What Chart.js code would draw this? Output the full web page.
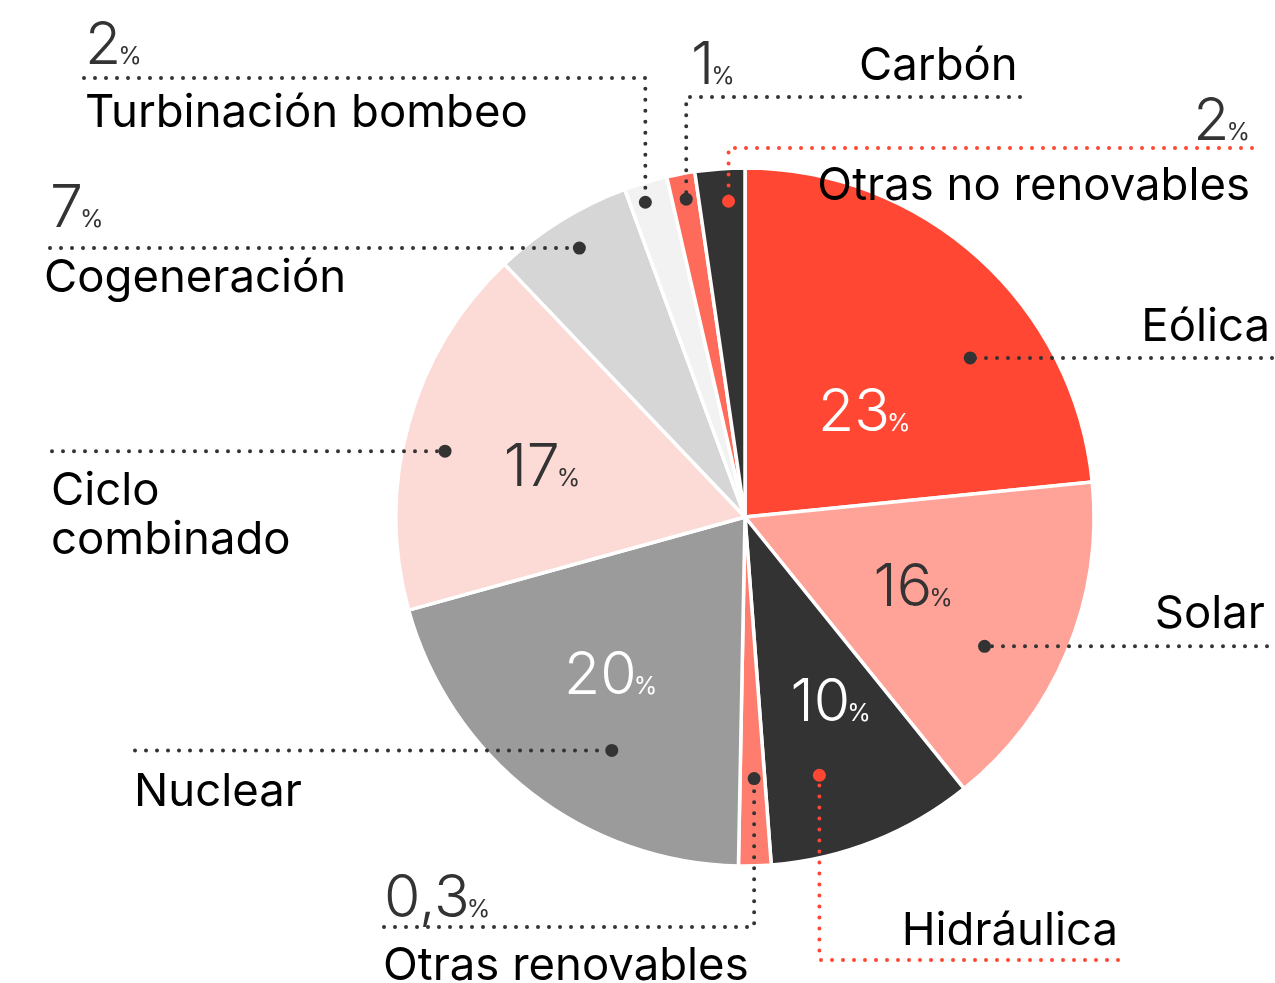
<!DOCTYPE html>
<html lang="es">
<head>
  <meta charset="UTF-8">
  <title>Generación por tecnología</title>
  <script src="https://cdn.jsdelivr.net/npm/chart.js"></script>
  <style>
    html, body { margin: 0; padding: 0; background: #fff; }
    #wrap { width: 1275px; height: 983px; position: relative; }
  </style>
</head>
<body>
  <div id="wrap">
    <canvas id="pie" width="1275" height="983"></canvas>
  </div>

  <script>
    // slices, clockwise from 12 o'clock
    const labels = ['Eólica', 'Solar', 'Hidráulica', 'Otras renovables', 'Nuclear',
                    'Ciclo combinado', 'Cogeneración', 'Turbinación bombeo', 'Carbón', 'Otras no renovables'];
    const values = [23.4, 15.8, 9.6, 1.5, 20.4, 17.2, 6.5, 2.0, 1.3, 2.3];
    const pctLabels = ['23', '16', '10', '0,3', '20', '17', '7', '2', '1', '2'];
    const colors = ['#FF4733', '#FFA297', '#333333', '#FF7D6E', '#9B9B9B',
                    '#FCDAD6', '#D6D6D6', '#F2F2F2', '#FF6B5B', '#333333'];

    const DARK = '#333333';
    const RED = '#FF4733';
    const FONT = 'Inter, "Noto Sans", sans-serif';

    // annotation layout per slice (same order as labels)
    // dot: position inside the arc (t = fraction of the arc angle, r = fraction of radius)
    // lead: 'h' = straight across to x, 'v' = vertical to lineY then across to x
    const layout = [
      { dot: { t: 0.65, r: 0.79 }, dc: DARK, lead: 'h', x: 1272,
        name: { x: 1270, y: 341, align: 'right' }, inner: { t: 0.57, r: 0.46, color: '#fff' } },
      { dot: { t: 0.60, r: 0.78 }, dc: DARK, lead: 'h', x: 1267,
        name: { x: 1265, y: 628, align: 'right' }, inner: { t: 0.49, r: 0.52, color: DARK } },
      { dot: { t: 0.66, r: 0.77 }, dc: RED, lead: 'v', lineY: 960, x: 1118,
        name: { x: 1118, y: 945, align: 'right' }, inner: { t: 0.40, r: 0.58, color: '#fff' } },
      { dot: { t: 0.43, r: 0.75 }, dc: DARK, lead: 'v', lineY: 927, x: 384,
        name: { x: 383, y: 980, align: 'left' }, outer: { x: 384, y: 917, align: 'left' } },
      { dot: { t: 0.39, r: 0.77 }, dc: DARK, lead: 'h', x: 135,
        name: { x: 134, y: 806, align: 'left' }, inner: { t: 0.54, r: 0.59, color: '#fff' } },
      { dot: { t: 0.45, r: 0.88 }, dc: DARK, lead: 'h', x: 52,
        name: { x: 51, y: 505, align: 'left', lines: ['Ciclo', 'combinado'], gap: 49 },
        inner: { t: 0.48, r: 0.60, color: DARK } },
      { dot: { t: 0.51, r: 0.905 }, dc: DARK, lead: 'h', x: 50,
        name: { x: 44, y: 292, align: 'left' }, outer: { x: 50, y: 227, align: 'left' } },
      { dot: { t: 0.36, r: 0.946 }, dc: DARK, lead: 'v', lineY: 78, x: 84,
        name: { x: 85, y: 127, align: 'left' }, outer: { x: 85, y: 64, align: 'left' } },
      { dot: { t: 0.53, r: 0.926 }, dc: DARK, lead: 'v', lineY: 97, x: 1020,
        name: { x: 859, y: 80, align: 'left' }, outer: { x: 691, y: 84, align: 'left' } },
      { dot: { t: 0.64, r: 0.906 }, dc: RED, lead: 'v', lineY: 148, x: 1252,
        name: { x: 1250, y: 200, align: 'right' }, outer: { x: 1250, y: 140, align: 'right' } }
    ];

    function polar(arc, t, r) {
      const a = arc.startAngle + (arc.endAngle - arc.startAngle) * t;
      const rr = arc.outerRadius * r;
      return { x: arc.x + Math.cos(a) * rr, y: arc.y + Math.sin(a) * rr };
    }

    function dotted(ctx, pts, color) {
      ctx.save();
      ctx.strokeStyle = color;
      ctx.lineWidth = 4;
      ctx.lineCap = 'round';
      ctx.setLineDash([0, 11]);
      ctx.beginPath();
      ctx.moveTo(pts[0].x, pts[0].y);
      for (let i = 1; i < pts.length; i++) ctx.lineTo(pts[i].x, pts[i].y);
      ctx.stroke();
      ctx.restore();
    }

    // big number followed by a small "%"
    function drawPct(ctx, num, x, y, align, color, middle) {
      ctx.save();
      ctx.fillStyle = color;
      ctx.textBaseline = 'alphabetic';
      ctx.textAlign = 'left';
      const bigFont = '350 59px ' + FONT;
      const smallFont = '400 24px ' + FONT;
      const gap = -3;
      ctx.font = bigFont;
      const w1 = ctx.measureText(num).width;
      ctx.font = smallFont;
      const w2 = ctx.measureText('%').width;
      const total = w1 + gap + w2;
      let x0 = x;
      if (align === 'right') x0 = x - total;
      if (align === 'center') x0 = x - total / 2;
      const by = middle ? y + 21 : y;
      ctx.font = bigFont;
      ctx.fillText(num, x0, by);
      ctx.font = smallFont;
      ctx.fillText('%', x0 + w1 + gap, by);
      ctx.restore();
    }

    const annotations = {
      id: 'annotations',
      afterDatasetsDraw(chart) {
        const ctx = chart.ctx;
        const arcs = chart.getDatasetMeta(0).data;

        layout.forEach((L, i) => {
          const arc = arcs[i].getProps(['x', 'y', 'startAngle', 'endAngle', 'outerRadius'], true);
          const p = polar(arc, L.dot.t, L.dot.r);
          const lineColor = L.dc === RED ? RED : DARK;

          // drawn from the far end so the dot pattern starts at the line's tip
          if (L.lead === 'h') {
            dotted(ctx, [{ x: L.x, y: p.y }, p], lineColor);
          } else {
            dotted(ctx, [{ x: L.x, y: L.lineY }, { x: p.x, y: L.lineY }, p], lineColor);
          }

          ctx.save();
          ctx.fillStyle = L.dc;
          ctx.beginPath();
          ctx.arc(p.x, p.y, 6.5, 0, Math.PI * 2);
          ctx.fill();
          ctx.restore();

          if (L.inner) {
            const c = polar(arc, L.inner.t, L.inner.r);
            drawPct(ctx, pctLabels[i], c.x, c.y, 'center', L.inner.color, true);
          }
          if (L.outer) {
            drawPct(ctx, pctLabels[i], L.outer.x, L.outer.y, L.outer.align, DARK, false);
          }

          ctx.save();
          ctx.fillStyle = '#000';
          ctx.font = '400 45.5px ' + FONT;
          ctx.textAlign = L.name.align;
          ctx.textBaseline = 'alphabetic';
          const lines = L.name.lines || [labels[i]];
          lines.forEach((s, k) => ctx.fillText(s, L.name.x, L.name.y + k * (L.name.gap || 0)));
          ctx.restore();
        });
      }
    };

    new Chart(document.getElementById('pie').getContext('2d'), {
      type: 'pie',
      data: {
        labels,
        datasets: [{
          data: values,
          backgroundColor: colors,
          borderColor: '#fff',
          borderWidth: 3.5
        }]
      },
      options: {
        responsive: false,
        animation: false,
        radius: 349,
        layout: { padding: { left: 395, right: 180, top: 167, bottom: 116 } },
        plugins: {
          legend: { display: false },
          tooltip: { enabled: false }
        }
      },
      plugins: [annotations]
    });
  </script>
</body>
</html>
